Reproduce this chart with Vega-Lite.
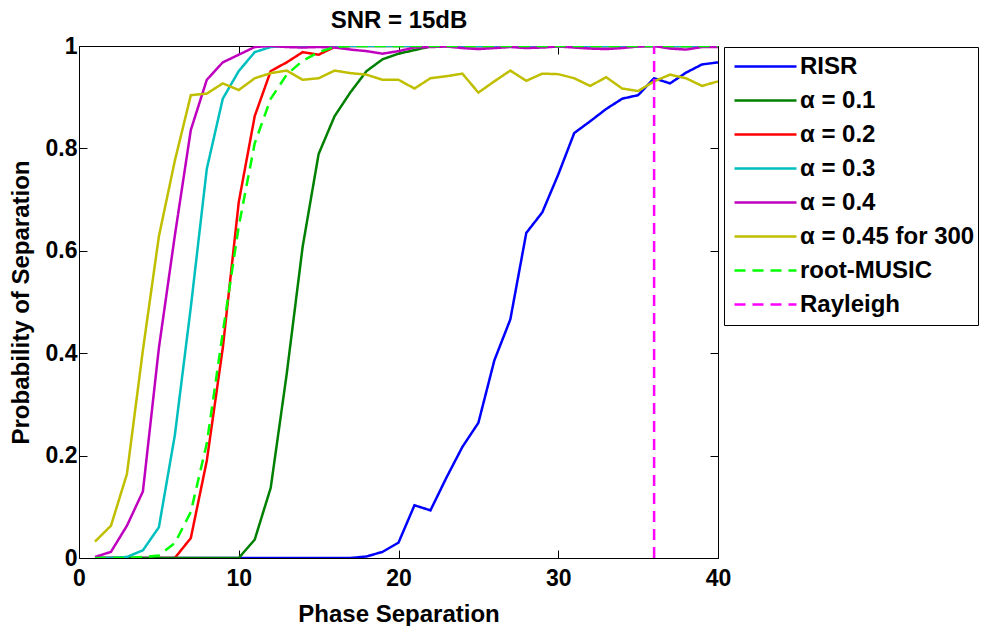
{
  "$schema": "https://vega.github.io/schema/vega-lite/v6.json",
  "width": 639,
  "height": 512,
  "autosize": "none",
  "padding": {"left": 79, "top": 46, "right": 271, "bottom": 68},
  "background": "white",
  "config": {
    "view": {"stroke": "black", "strokeWidth": 1},
    "font": "Liberation Sans",
    "axis": {"grid": false, "domain": false, "labelFlush": false, "tickColor": "black", "tickWidth": 1, "labelColor": "black", "labelFontSize": 23, "labelFontWeight": "bold", "labelFont": "Liberation Sans", "titleFont": "Liberation Sans", "titleFontSize": 24, "titleFontWeight": "bold", "titleColor": "black", "tickSize": -8}
  },
  "data": {"values": [
    {"s":"RISR","x":1,"y":0},{"s":"RISR","x":2,"y":0},{"s":"RISR","x":3,"y":0},{"s":"RISR","x":4,"y":0},{"s":"RISR","x":5,"y":0},{"s":"RISR","x":6,"y":0},{"s":"RISR","x":7,"y":0},{"s":"RISR","x":8,"y":0},{"s":"RISR","x":9,"y":0},{"s":"RISR","x":10,"y":0},{"s":"RISR","x":11,"y":0},{"s":"RISR","x":12,"y":0},{"s":"RISR","x":13,"y":0},{"s":"RISR","x":14,"y":0},{"s":"RISR","x":15,"y":0},{"s":"RISR","x":16,"y":0},{"s":"RISR","x":17,"y":0},{"s":"RISR","x":18,"y":0.003},{"s":"RISR","x":19,"y":0.012},{"s":"RISR","x":20,"y":0.03},{"s":"RISR","x":21,"y":0.103},{"s":"RISR","x":22,"y":0.093},{"s":"RISR","x":23,"y":0.157},{"s":"RISR","x":24,"y":0.217},{"s":"RISR","x":25,"y":0.264},{"s":"RISR","x":26,"y":0.386},{"s":"RISR","x":27,"y":0.466},{"s":"RISR","x":28,"y":0.635},{"s":"RISR","x":29,"y":0.675},{"s":"RISR","x":30,"y":0.749},{"s":"RISR","x":31,"y":0.83},{"s":"RISR","x":32,"y":0.853},{"s":"RISR","x":33,"y":0.877},{"s":"RISR","x":34,"y":0.897},{"s":"RISR","x":35,"y":0.904},{"s":"RISR","x":36,"y":0.937},{"s":"RISR","x":37,"y":0.927},{"s":"RISR","x":38,"y":0.948},{"s":"RISR","x":39,"y":0.964},{"s":"RISR","x":40,"y":0.968},
    {"s":"α =  0.2","x":1,"y":0},{"s":"α =  0.2","x":2,"y":0},{"s":"α =  0.2","x":3,"y":0},{"s":"α =  0.2","x":4,"y":0},{"s":"α =  0.2","x":5,"y":0},{"s":"α =  0.2","x":6,"y":0},{"s":"α =  0.2","x":7,"y":0.039},{"s":"α =  0.2","x":8,"y":0.19},{"s":"α =  0.2","x":9,"y":0.41},{"s":"α =  0.2","x":10,"y":0.695},{"s":"α =  0.2","x":11,"y":0.863},{"s":"α =  0.2","x":12,"y":0.951},{"s":"α =  0.2","x":13,"y":0.968},{"s":"α =  0.2","x":14,"y":0.988},{"s":"α =  0.2","x":15,"y":0.983},{"s":"α =  0.2","x":16,"y":0.998},{"s":"α =  0.2","x":17,"y":1},{"s":"α =  0.2","x":18,"y":1},{"s":"α =  0.2","x":19,"y":1},{"s":"α =  0.2","x":20,"y":1},{"s":"α =  0.2","x":21,"y":1},{"s":"α =  0.2","x":22,"y":1},{"s":"α =  0.2","x":23,"y":1},{"s":"α =  0.2","x":24,"y":1},{"s":"α =  0.2","x":25,"y":1},{"s":"α =  0.2","x":26,"y":1},{"s":"α =  0.2","x":27,"y":1},{"s":"α =  0.2","x":28,"y":1},{"s":"α =  0.2","x":29,"y":1},{"s":"α =  0.2","x":30,"y":1},{"s":"α =  0.2","x":31,"y":1},{"s":"α =  0.2","x":32,"y":1},{"s":"α =  0.2","x":33,"y":1},{"s":"α =  0.2","x":34,"y":1},{"s":"α =  0.2","x":35,"y":1},{"s":"α =  0.2","x":36,"y":1},{"s":"α =  0.2","x":37,"y":1},{"s":"α =  0.2","x":38,"y":1},{"s":"α =  0.2","x":39,"y":1},{"s":"α =  0.2","x":40,"y":1},
    {"s":"α =  0.1","x":1,"y":0},{"s":"α =  0.1","x":2,"y":0},{"s":"α =  0.1","x":3,"y":0},{"s":"α =  0.1","x":4,"y":0},{"s":"α =  0.1","x":5,"y":0},{"s":"α =  0.1","x":6,"y":0},{"s":"α =  0.1","x":7,"y":0},{"s":"α =  0.1","x":8,"y":0},{"s":"α =  0.1","x":9,"y":0},{"s":"α =  0.1","x":10,"y":0},{"s":"α =  0.1","x":11,"y":0.036},{"s":"α =  0.1","x":12,"y":0.137},{"s":"α =  0.1","x":13,"y":0.359},{"s":"α =  0.1","x":14,"y":0.608},{"s":"α =  0.1","x":15,"y":0.789},{"s":"α =  0.1","x":16,"y":0.863},{"s":"α =  0.1","x":17,"y":0.91},{"s":"α =  0.1","x":18,"y":0.951},{"s":"α =  0.1","x":19,"y":0.974},{"s":"α =  0.1","x":20,"y":0.985},{"s":"α =  0.1","x":21,"y":0.992},{"s":"α =  0.1","x":22,"y":0.999},{"s":"α =  0.1","x":23,"y":1},{"s":"α =  0.1","x":24,"y":1},{"s":"α =  0.1","x":25,"y":1},{"s":"α =  0.1","x":26,"y":1},{"s":"α =  0.1","x":27,"y":1},{"s":"α =  0.1","x":28,"y":1},{"s":"α =  0.1","x":29,"y":1},{"s":"α =  0.1","x":30,"y":1},{"s":"α =  0.1","x":31,"y":1},{"s":"α =  0.1","x":32,"y":1},{"s":"α =  0.1","x":33,"y":1},{"s":"α =  0.1","x":34,"y":1},{"s":"α =  0.1","x":35,"y":1},{"s":"α =  0.1","x":36,"y":1},{"s":"α =  0.1","x":37,"y":1},{"s":"α =  0.1","x":38,"y":1},{"s":"α =  0.1","x":39,"y":1},{"s":"α =  0.1","x":40,"y":1},
    {"s":"α =  0.3","x":1,"y":0},{"s":"α =  0.3","x":2,"y":0},{"s":"α =  0.3","x":3,"y":0.002},{"s":"α =  0.3","x":4,"y":0.015},{"s":"α =  0.3","x":5,"y":0.06},{"s":"α =  0.3","x":6,"y":0.24},{"s":"α =  0.3","x":7,"y":0.49},{"s":"α =  0.3","x":8,"y":0.76},{"s":"α =  0.3","x":9,"y":0.897},{"s":"α =  0.3","x":10,"y":0.951},{"s":"α =  0.3","x":11,"y":0.988},{"s":"α =  0.3","x":12,"y":0.998},{"s":"α =  0.3","x":13,"y":1},{"s":"α =  0.3","x":14,"y":1},{"s":"α =  0.3","x":15,"y":1},{"s":"α =  0.3","x":16,"y":1},{"s":"α =  0.3","x":17,"y":1},{"s":"α =  0.3","x":18,"y":1},{"s":"α =  0.3","x":19,"y":1},{"s":"α =  0.3","x":20,"y":1},{"s":"α =  0.3","x":21,"y":1},{"s":"α =  0.3","x":22,"y":1},{"s":"α =  0.3","x":23,"y":1},{"s":"α =  0.3","x":24,"y":1},{"s":"α =  0.3","x":25,"y":1},{"s":"α =  0.3","x":26,"y":1},{"s":"α =  0.3","x":27,"y":1},{"s":"α =  0.3","x":28,"y":1},{"s":"α =  0.3","x":29,"y":1},{"s":"α =  0.3","x":30,"y":1},{"s":"α =  0.3","x":31,"y":1},{"s":"α =  0.3","x":32,"y":1},{"s":"α =  0.3","x":33,"y":1},{"s":"α =  0.3","x":34,"y":1},{"s":"α =  0.3","x":35,"y":1},{"s":"α =  0.3","x":36,"y":1},{"s":"α =  0.3","x":37,"y":1},{"s":"α =  0.3","x":38,"y":1},{"s":"α =  0.3","x":39,"y":1},{"s":"α =  0.3","x":40,"y":1},
    {"s":"α =  0.4","x":1,"y":0.002},{"s":"α =  0.4","x":2,"y":0.012},{"s":"α =  0.4","x":3,"y":0.063},{"s":"α =  0.4","x":4,"y":0.13},{"s":"α =  0.4","x":5,"y":0.41},{"s":"α =  0.4","x":6,"y":0.63},{"s":"α =  0.4","x":7,"y":0.836},{"s":"α =  0.4","x":8,"y":0.934},{"s":"α =  0.4","x":9,"y":0.968},{"s":"α =  0.4","x":10,"y":0.983},{"s":"α =  0.4","x":11,"y":0.998},{"s":"α =  0.4","x":12,"y":1},{"s":"α =  0.4","x":13,"y":0.998},{"s":"α =  0.4","x":14,"y":0.997},{"s":"α =  0.4","x":15,"y":0.998},{"s":"α =  0.4","x":16,"y":0.997},{"s":"α =  0.4","x":17,"y":0.993},{"s":"α =  0.4","x":18,"y":0.99},{"s":"α =  0.4","x":19,"y":0.985},{"s":"α =  0.4","x":20,"y":0.99},{"s":"α =  0.4","x":21,"y":0.997},{"s":"α =  0.4","x":22,"y":0.998},{"s":"α =  0.4","x":23,"y":0.999},{"s":"α =  0.4","x":24,"y":0.996},{"s":"α =  0.4","x":25,"y":0.994},{"s":"α =  0.4","x":26,"y":0.996},{"s":"α =  0.4","x":27,"y":0.998},{"s":"α =  0.4","x":28,"y":0.996},{"s":"α =  0.4","x":29,"y":0.997},{"s":"α =  0.4","x":30,"y":0.999},{"s":"α =  0.4","x":31,"y":0.997},{"s":"α =  0.4","x":32,"y":0.995},{"s":"α =  0.4","x":33,"y":0.994},{"s":"α =  0.4","x":34,"y":0.996},{"s":"α =  0.4","x":35,"y":0.999},{"s":"α =  0.4","x":36,"y":1},{"s":"α =  0.4","x":37,"y":0.995},{"s":"α =  0.4","x":38,"y":0.993},{"s":"α =  0.4","x":39,"y":0.998},{"s":"α =  0.4","x":40,"y":0.998},
    {"s":"α = 0.45 for 300","x":1,"y":0.032},{"s":"α = 0.45 for 300","x":2,"y":0.063},{"s":"α = 0.45 for 300","x":3,"y":0.164},{"s":"α = 0.45 for 300","x":4,"y":0.406},{"s":"α = 0.45 for 300","x":5,"y":0.628},{"s":"α = 0.45 for 300","x":6,"y":0.776},{"s":"α = 0.45 for 300","x":7,"y":0.904},{"s":"α = 0.45 for 300","x":8,"y":0.907},{"s":"α = 0.45 for 300","x":9,"y":0.927},{"s":"α = 0.45 for 300","x":10,"y":0.914},{"s":"α = 0.45 for 300","x":11,"y":0.937},{"s":"α = 0.45 for 300","x":12,"y":0.947},{"s":"α = 0.45 for 300","x":13,"y":0.952},{"s":"α = 0.45 for 300","x":14,"y":0.934},{"s":"α = 0.45 for 300","x":15,"y":0.937},{"s":"α = 0.45 for 300","x":16,"y":0.952},{"s":"α = 0.45 for 300","x":17,"y":0.947},{"s":"α = 0.45 for 300","x":18,"y":0.944},{"s":"α = 0.45 for 300","x":19,"y":0.934},{"s":"α = 0.45 for 300","x":20,"y":0.934},{"s":"α = 0.45 for 300","x":21,"y":0.917},{"s":"α = 0.45 for 300","x":22,"y":0.937},{"s":"α = 0.45 for 300","x":23,"y":0.941},{"s":"α = 0.45 for 300","x":24,"y":0.946},{"s":"α = 0.45 for 300","x":25,"y":0.909},{"s":"α = 0.45 for 300","x":26,"y":0.931},{"s":"α = 0.45 for 300","x":27,"y":0.952},{"s":"α = 0.45 for 300","x":28,"y":0.932},{"s":"α = 0.45 for 300","x":29,"y":0.946},{"s":"α = 0.45 for 300","x":30,"y":0.945},{"s":"α = 0.45 for 300","x":31,"y":0.937},{"s":"α = 0.45 for 300","x":32,"y":0.922},{"s":"α = 0.45 for 300","x":33,"y":0.939},{"s":"α = 0.45 for 300","x":34,"y":0.917},{"s":"α = 0.45 for 300","x":35,"y":0.912},{"s":"α = 0.45 for 300","x":36,"y":0.931},{"s":"α = 0.45 for 300","x":37,"y":0.944},{"s":"α = 0.45 for 300","x":38,"y":0.937},{"s":"α = 0.45 for 300","x":39,"y":0.922},{"s":"α = 0.45 for 300","x":40,"y":0.931},
    {"s":"root-MUSIC","x":1,"y":0},{"s":"root-MUSIC","x":2,"y":0},{"s":"root-MUSIC","x":3,"y":0},{"s":"root-MUSIC","x":4,"y":0.002},{"s":"root-MUSIC","x":5,"y":0.005},{"s":"root-MUSIC","x":6,"y":0.029},{"s":"root-MUSIC","x":7,"y":0.09},{"s":"root-MUSIC","x":8,"y":0.224},{"s":"root-MUSIC","x":9,"y":0.44},{"s":"root-MUSIC","x":10,"y":0.648},{"s":"root-MUSIC","x":11,"y":0.81},{"s":"root-MUSIC","x":12,"y":0.897},{"s":"root-MUSIC","x":13,"y":0.944},{"s":"root-MUSIC","x":14,"y":0.971},{"s":"root-MUSIC","x":15,"y":0.988},{"s":"root-MUSIC","x":16,"y":0.998},{"s":"root-MUSIC","x":17,"y":1},{"s":"root-MUSIC","x":18,"y":1},{"s":"root-MUSIC","x":19,"y":1},{"s":"root-MUSIC","x":20,"y":1},{"s":"root-MUSIC","x":21,"y":1},{"s":"root-MUSIC","x":22,"y":1},{"s":"root-MUSIC","x":23,"y":1},{"s":"root-MUSIC","x":24,"y":1},{"s":"root-MUSIC","x":25,"y":1},{"s":"root-MUSIC","x":26,"y":1},{"s":"root-MUSIC","x":27,"y":1},{"s":"root-MUSIC","x":28,"y":1},{"s":"root-MUSIC","x":29,"y":1},{"s":"root-MUSIC","x":30,"y":1},{"s":"root-MUSIC","x":31,"y":1},{"s":"root-MUSIC","x":32,"y":1},{"s":"root-MUSIC","x":33,"y":1},{"s":"root-MUSIC","x":34,"y":1},{"s":"root-MUSIC","x":35,"y":1},{"s":"root-MUSIC","x":36,"y":1},{"s":"root-MUSIC","x":37,"y":1},{"s":"root-MUSIC","x":38,"y":1},{"s":"root-MUSIC","x":39,"y":1},{"s":"root-MUSIC","x":40,"y":1},
    {"s":"Rayleigh","x":36,"y":0},{"s":"Rayleigh","x":36,"y":1}
  ]},
  "layer": [
    {
      "mark": {"type": "line", "strokeWidth": 2.5, "clip": true},
      "encoding": {
        "x": {"field": "x", "type": "quantitative", "scale": {"domain": [0, 40], "nice": false, "zero": false, "padding": 0},
              "axis": {"orient": "bottom", "values": [0, 10, 20, 30, 40], "title": "Phase Separation", "labelPadding": 17, "titlePadding": 12}},
        "y": {"field": "y", "type": "quantitative", "scale": {"domain": [0, 1], "nice": false, "padding": 0},
              "axis": {"orient": "left", "values": [0, 0.2, 0.4, 0.6, 0.8, 1], "format": "~g", "title": "Probability of Separation", "labelPadding": 10, "titlePadding": 12}},
        "color": {"field": "s", "type": "nominal",
          "scale": {"domain": ["RISR", "α =  0.1", "α =  0.2", "α =  0.3", "α =  0.4", "α = 0.45 for 300", "root-MUSIC", "Rayleigh"],
                    "range": ["#0000FF", "#008000", "#FF0000", "#00BFBF", "#BF00BF", "#BFBF00", "#00FF00", "#FF00FF"]},
          "legend": {"title": null, "orient": "none", "legendX": 645, "legendY": 1, "symbolType": "stroke", "symbolSize": 3844, "symbolStrokeWidth": 2.5, "clipHeight": 33.2, "rowPadding": 0, "padding": 3, "symbolOffset": 6, "labelOffset": 2, "labelFontSize": 24, "labelFontWeight": "bold", "labelFont": "Liberation Sans", "labelColor": "black", "strokeColor": "black", "fillColor": "white", "cornerRadius": 0, "labelLimit": 400}},
        "strokeDash": {"field": "s", "type": "nominal",
          "scale": {"domain": ["RISR", "α =  0.1", "α =  0.2", "α =  0.3", "α =  0.4", "α = 0.45 for 300", "root-MUSIC", "Rayleigh"],
                    "range": [[1, 0], [1, 0], [1, 0], [1, 0], [1, 0], [1, 0], [11, 7], [11, 7]]},
          "legend": {"title": null, "orient": "none", "legendX": 645, "legendY": 1, "symbolType": "stroke", "symbolSize": 3844, "symbolStrokeWidth": 2.5, "clipHeight": 33.2, "rowPadding": 0, "padding": 3, "symbolOffset": 6, "labelOffset": 2, "labelFontSize": 24, "labelFontWeight": "bold", "labelFont": "Liberation Sans", "labelColor": "black", "strokeColor": "black", "fillColor": "white", "cornerRadius": 0, "labelLimit": 400}}
      }
    },
    {
      "transform": [{"filter": "datum.s == 'Rayleigh'"}],
      "mark": {"type": "line", "opacity": 0},
      "encoding": {
        "x": {"field": "x", "type": "quantitative", "scale": {"domain": [0, 40], "nice": false, "zero": false, "padding": 0}, "axis": {"orient": "top", "values": [0, 10, 20, 30, 40], "labels": false, "title": "SNR = 15dB", "titleBaseline": "alphabetic", "titlePadding": 18}},
        "y": {"field": "y", "type": "quantitative", "scale": {"domain": [0, 1], "nice": false, "padding": 0}, "axis": {"orient": "right", "values": [0, 0.2, 0.4, 0.6, 0.8, 1], "labels": false, "title": null}}
      }
    }
  ],
  "resolve": {"axis": {"x": "independent", "y": "independent"}}
}
